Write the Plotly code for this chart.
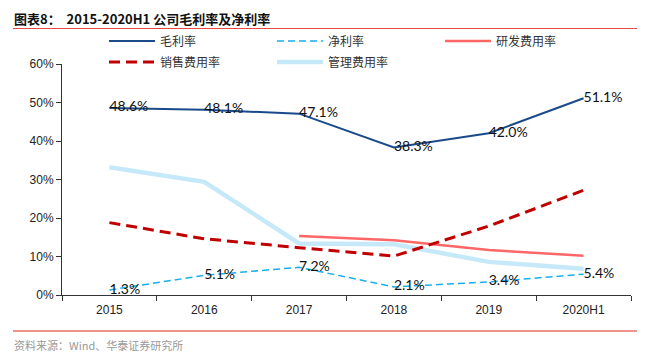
import plotly.graph_objects as go

categories = ["2015", "2016", "2017", "2018", "2019", "2020H1"]
gross_margin = [48.6, 48.1, 47.1, 38.3, 42.0, 51.1]
net_margin = [1.3, 5.1, 7.2, 2.1, 3.4, 5.4]
rd_ratio = [None, None, 15.3, 14.2, 11.7, 10.2]
sales_ratio = [18.8, 14.6, 12.3, 10.1, 17.9, 27.2]
admin_ratio = [33.2, 29.4, 13.4, 13.2, 8.6, 6.8]
y_ticks = [0, 10, 20, 30, 40, 50, 60]
y_tick_labels = [f"{v}%" for v in y_ticks]

# page has an 8px body margin; figure is sized to fill the rest of the window
OFF = 8
W, H = 645 - OFF, 362 - OFF
# plot area in page pixels: x 62..631, y 64..295
L = 62 - OFF
T = 64 - OFF
R = W - (631 - OFF)
B = H - (295 - OFF)
PW, PH = W - L - R, H - T - B


def px(x):
    # page pixel x -> paper coordinate
    return (x - OFF - L) / PW


def py(y):
    # page pixel y -> paper coordinate
    return (T + PH - (y - OFF)) / PH


CJK = "Noto Sans CJK SC"
LAB = "Liberation Sans"
NUM = "Lato"

fig = go.Figure()

fig.add_trace(go.Scatter(
    x=categories, y=admin_ratio, name="管理费用率", mode="lines",
    line=dict(color="#C5E9F8", width=4.5), legend="legend2"))
fig.add_trace(go.Scatter(
    x=categories, y=rd_ratio, name="研发费用率", mode="lines",
    line=dict(color="#FF6666", width=2.5), legend="legend"))
fig.add_trace(go.Scatter(
    x=categories, y=sales_ratio, name="销售费用率", mode="lines",
    line=dict(color="#C00000", width=3, dash="11px,6px"), legend="legend2"))
fig.add_trace(go.Scatter(
    x=categories, y=net_margin, name="净利率", mode="lines+text",
    line=dict(color="#19AEEF", width=1.5, dash="7px,4px"),
    text=[f"{v:.1f}%" for v in net_margin], textposition="middle right",
    textfont=dict(family=NUM, size=14, color="#111"),
    legend="legend"))
fig.add_trace(go.Scatter(
    x=categories, y=gross_margin, name="毛利率", mode="lines+text",
    line=dict(color="#1A4A8A", width=2),
    text=[f"{v:.1f}%" for v in gross_margin], textposition="middle right",
    textfont=dict(family=NUM, size=14, color="#111"),
    legend="legend"))

rank = {"毛利率": 1, "净利率": 2, "研发费用率": 3, "销售费用率": 1, "管理费用率": 2}
for tr in fig.data:
    tr.legendrank = rank[tr.name]

legend_common = dict(
    orientation="h", xanchor="left", yanchor="middle",
    entrywidth=107, entrywidthmode="pixels",
    font=dict(family=CJK, size=12, color="#333"),
    bgcolor="rgba(0,0,0,0)", itemwidth=46, traceorder="normal",
)

fig.update_layout(
    width=W, height=H,
    margin=dict(l=L, r=R, t=T, b=B, autoexpand=False),
    plot_bgcolor="white", paper_bgcolor="white",
    showlegend=True,
    legend=dict(x=px(104), y=py(41), **legend_common),
    legend2=dict(x=px(104), y=py(62), **legend_common),
    xaxis=dict(
        type="category", range=[-0.5, 5.5], showgrid=False,
        showline=True, linecolor="#333", linewidth=1,
        ticks="outside", tickson="boundaries", ticklen=5, tickcolor="#333",
        ticklabelstandoff=4,
        tickfont=dict(family=LAB, size=12, color="#222"),
    ),
    yaxis=dict(
        range=[0, 60], tickvals=y_ticks, ticktext=y_tick_labels,
        showgrid=False, zeroline=False,
        showline=True, linecolor="#333", linewidth=1,
        ticks="outside", ticklen=5, tickcolor="#333",
        tickfont=dict(family=LAB, size=12, color="#222"),
    ),
    shapes=[
        dict(type="line", xref="paper", yref="paper",
             x0=px(13), x1=px(645), y0=py(28.5), y1=py(28.5),
             line=dict(color="#E8483F", width=1.2)),
        dict(type="line", xref="paper", yref="paper",
             x0=px(13), x1=px(645), y0=py(331), y1=py(331),
             line=dict(color="#F0948A", width=2)),
    ],
    annotations=[
        dict(text="<b>图表8：  2015-2020H1 公司毛利率及净利率</b>",
             xref="paper", yref="paper", x=px(12), y=py(18),
             xanchor="left", yanchor="middle", showarrow=False,
             font=dict(family=CJK, size=13, color="#111")),
        dict(text="资料来源：Wind、华泰证券研究所",
             xref="paper", yref="paper", x=px(12), y=py(345),
             xanchor="left", yanchor="middle", showarrow=False,
             font=dict(family=CJK, size=11, color="#999")),
    ],
)

fig.write_html("out.html")
